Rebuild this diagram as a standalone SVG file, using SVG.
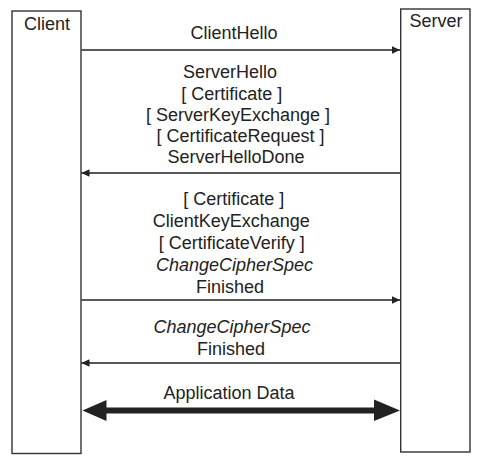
<svg xmlns="http://www.w3.org/2000/svg" width="481" height="465" viewBox="0 0 481 465">
<style>
  .box { fill: #ffffff; stroke: #333333; stroke-width: 1.4; }
  .msg { stroke: #222222; stroke-width: 1.3; fill: none; }
  text { font-family: "Liberation Sans", Arial, sans-serif; font-size: 18px; fill: #222222; text-anchor: middle; }
  .it { font-style: italic; }
</style>
<defs>
  <marker id="ah" markerUnits="userSpaceOnUse" markerWidth="9" markerHeight="8" refX="8" refY="3.7" orient="auto">
    <path d="M0,0 L8,3.7 L0,7.4 z" fill="#222222"/>
  </marker>
</defs>
<rect width="481" height="465" fill="#ffffff"/>
<g id="client">
  <rect class="box" x="12" y="11" width="69" height="442.5"/>
  <text x="47" y="30">Client</text>
</g>
<g id="server">
  <rect class="box" x="400.7" y="9" width="69.3" height="443"/>
  <text x="436" y="27">Server</text>
</g>
<g id="connectors">
  <line class="msg" x1="81.5" y1="50" x2="400" y2="50" marker-end="url(#ah)"/>
  <line class="msg" x1="400" y1="173" x2="81.5" y2="173" marker-end="url(#ah)"/>
  <line class="msg" x1="81.5" y1="300" x2="400" y2="300" marker-end="url(#ah)"/>
  <line class="msg" x1="400" y1="363" x2="81.5" y2="363" marker-end="url(#ah)"/>
  <polygon fill="#222222" points="82.5,410.5 106.5,400 106.5,407.5 374,407.5 374,399.5 400,410.5 374,421 374,413.5 106.5,413.5 106.5,421"/>
</g>
<g id="labels">
  <text x="234" y="39">ClientHello</text>
  <text x="230" y="78.3">ServerHello</text>
  <text x="231.7" y="99.5">[ Certificate ]</text>
  <text x="238" y="120.8">[ ServerKeyExchange ]</text>
  <text x="240.5" y="142">[ CertificateRequest ]</text>
  <text x="236" y="163.3">ServerHelloDone</text>
  <text x="233.7" y="205.3">[ Certificate ]</text>
  <text x="231.3" y="227">ClientKeyExchange</text>
  <text x="231.7" y="249">[ CertificateVerify ]</text>
  <text class="it" x="234.5" y="271">ChangeCipherSpec</text>
  <text x="230" y="292.7">Finished</text>
  <text class="it" x="232" y="333">ChangeCipherSpec</text>
  <text x="231" y="355">Finished</text>
  <text x="229" y="399">Application Data</text>
</g>
</svg>
